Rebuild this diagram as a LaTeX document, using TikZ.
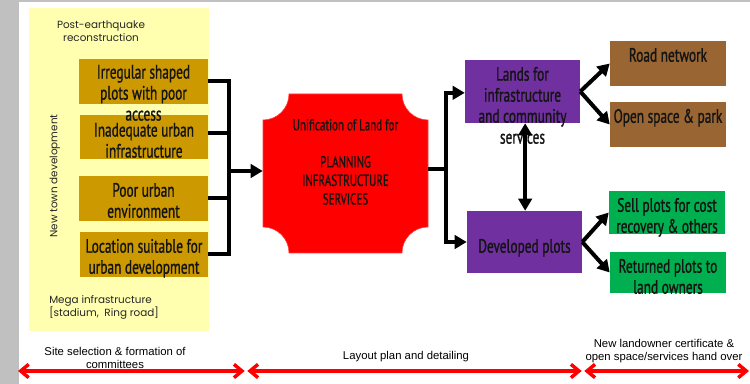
\documentclass[tikz,border=0pt]{standalone}
\usepackage{fontspec}
\setmainfont{Liberation Sans}
\newfontfamily\boxfont[FakeStretch=0.69,FakeBold=1]{PT Sans}
\newfontfamily\geofont{Poppins}
\usetikzlibrary{arrows.meta,fit}
\definecolor{frame}{RGB}{192,192,192}
\definecolor{paleyellow}{RGB}{255,255,175}
\definecolor{gold}{RGB}{204,153,0}
\definecolor{bark}{RGB}{153,102,51}
\definecolor{plum}{RGB}{112,48,160}
\definecolor{leaf}{RGB}{0,176,80}
\definecolor{ink}{RGB}{20,20,20}
\begin{document}
\begin{tikzpicture}[x=0.75pt,y=-0.75pt,
  panel/.style={inner sep=0pt, draw=none},
  cause/.style={panel, fill=gold},
  landuse/.style={panel, fill=plum},
  infra/.style={panel, fill=bark},
  plots/.style={panel, fill=leaf},
  boxtext/.style={inner sep=0pt, anchor=north, align=center, text=ink,
    font=\boxfont\fontsize{14.5pt}{15.75pt}\selectfont},
  plantext/.style={inner sep=0pt, anchor=north, align=center, text=ink,
    font=\boxfont\fontsize{12pt}{13.9pt}\selectfont},
  note/.style={inner sep=0pt, align=center, text=black!85,
    font=\geofont\fontsize{7.8pt}{9.75pt}\selectfont},
  stage/.style={inner sep=0pt, align=center,
    font=\fontsize{8.5pt}{9.75pt}\selectfont},
  bar/.style={line width=3pt, black},
  flow/.style={bar, -{Triangle[length=9pt,width=10pt]}},
  twoway/.style={bar, {Triangle[length=9pt,width=10pt]}-{Triangle[length=9pt,width=10pt]}},
  span/.style={red, line width=2.6pt,
    {Straight Barb[length=6pt,width=10pt]}-{Straight Barb[length=6pt,width=10pt]}}
]
\useasboundingbox (0,0) rectangle (750,384);

% window frame
\fill[frame] (0,0) rectangle (19,384);
\fill[frame] (0,0) rectangle (750,2.5);

% context panel
\node[panel, fill=paleyellow, fit={(29,8) (209,331)}] (zone) {};
\node[note] (post) at (101,31.5) {Post-earthquake\\reconstruction};
\node[note, rotate=90] (newtown) at (55,176) {New town development};
\node[note, align=left, anchor=north west] (mega) at (49,295) {Mega infrastructure\\{[}stadium,\ \ Ring road{]}};

% problems
\node[cause, fit={(79,59) (208,104)}] (b1) {};
\node[cause, fit={(80,115) (208,159)}] (b2) {};
\node[cause, fit={(79,176) (208,221)}] (b3) {};
\node[cause, fit={(80,232) (208,277)}] (b4) {};
\node[boxtext] (t1) at ([yshift=-4.5pt]b1.north) {Irregular shaped\\plots with poor\\access};
\node[boxtext] (t2) at ([yshift=-6pt]b2.north) {Inadequate urban\\infrastructure};
\node[boxtext] (t3) at ([yshift=-5.25pt]b3.north) {Poor urban\\environment};
\node[boxtext] (t4) at ([yshift=-5.25pt]b4.north) {Location suitable for\\urban development};

% land unification
\node[panel, fit={(263,94) (428,253)}] (plan) {};
\fill[red, draw=red!75!white, line width=0.4pt]
  (289,94) -- (402,94) arc[start angle=180, end angle=90, radius=26]
  -- (428,227) arc[start angle=270, end angle=180, radius=26]
  -- (289,253) arc[start angle=360, end angle=270, radius=26]
  -- (263,120) arc[start angle=90, end angle=0, radius=26] -- cycle;
\node[plantext] (plantx) at ([yshift=-18.75pt]plan.north)
  {Unification of Land for\\[13.9pt]PLANNING\\INFRASTRUCTURE\\SERVICES};

% outcomes
\node[landuse, fit={(465,60) (580,123)}] (lands) {};
\node[landuse, fit={(467,211) (582,273)}] (dev) {};
\node[boxtext] (tl) at ([yshift=-5.25pt]lands.north) {Lands for\\infrastructure\\and community\\services};
\node[boxtext] (td) at ([yshift=-21pt]dev.north) {Developed plots};

\node[infra, fit={(610,41) (726,86)}] (road) {};
\node[infra, fit={(610,102) (726,147)}] (open) {};
\node[plots, fit={(609,191) (725,234)}] (sell) {};
\node[plots, fit={(610,252) (726,293)}] (ret) {};
\node[boxtext] (tr) at ([yshift=-5.25pt]road.north) {Road network};
\node[boxtext] (to) at ([yshift=-5.25pt]open.north) {Open space \& park};
\node[boxtext] (ts) at ([yshift=-5.25pt]sell.north) {Sell plots for cost\\recovery \& others};
\node[boxtext] (tt) at ([yshift=-5.25pt]ret.north) {Returned plots to\\land owners};

% connectors
\coordinate (jl) at (229,171);
\coordinate (jr) at (446,169);
\draw[bar] (b1.east) -| (jl) |- (b4.east);
\draw[bar] ([yshift=3pt]b2.east) -- ([yshift=3pt]b2.east -| jl);
\draw[bar] (b3.east) -- (b3.east -| jl);
\draw[flow] (jl) -- (jl -| plan.west);
\draw[bar] (plan.east |- jr) -- (jr);
\draw[flow] (jr) |- ([yshift=-1pt]lands.west);
\draw[flow] (jr) |- (dev.west);
\draw[twoway] ([xshift=2pt]lands.south) -- ([xshift=2pt]lands.south |- dev.north);
\draw[flow] (lands.east) -- (road.west);
\draw[flow] (lands.east) -- (open.west);
\draw[flow] (dev.east) -- (sell.west);
\draw[flow] (dev.east) -- (ret.west);

% project stages
\coordinate (s0) at (18,371);
\coordinate (s1) at (246,371);
\coordinate (s2) at (583,371);
\coordinate (s3) at (749,371);
\draw[span] (s0) -- ([xshift=-1pt]s1);
\draw[span] ([xshift=1pt]s1) -- ([xshift=-1pt]s2);
\draw[span] ([xshift=1pt]s2) -- (s3);
\node[stage] (st1) at (115,358) {Site selection \& formation of\\committees};
\node[stage] (st2) at (406,357) {Layout plan and detailing};
\node[stage] (st3) at (664,351) {New landowner certificate \&\\open space/services hand over};
\end{tikzpicture}
\end{document}
